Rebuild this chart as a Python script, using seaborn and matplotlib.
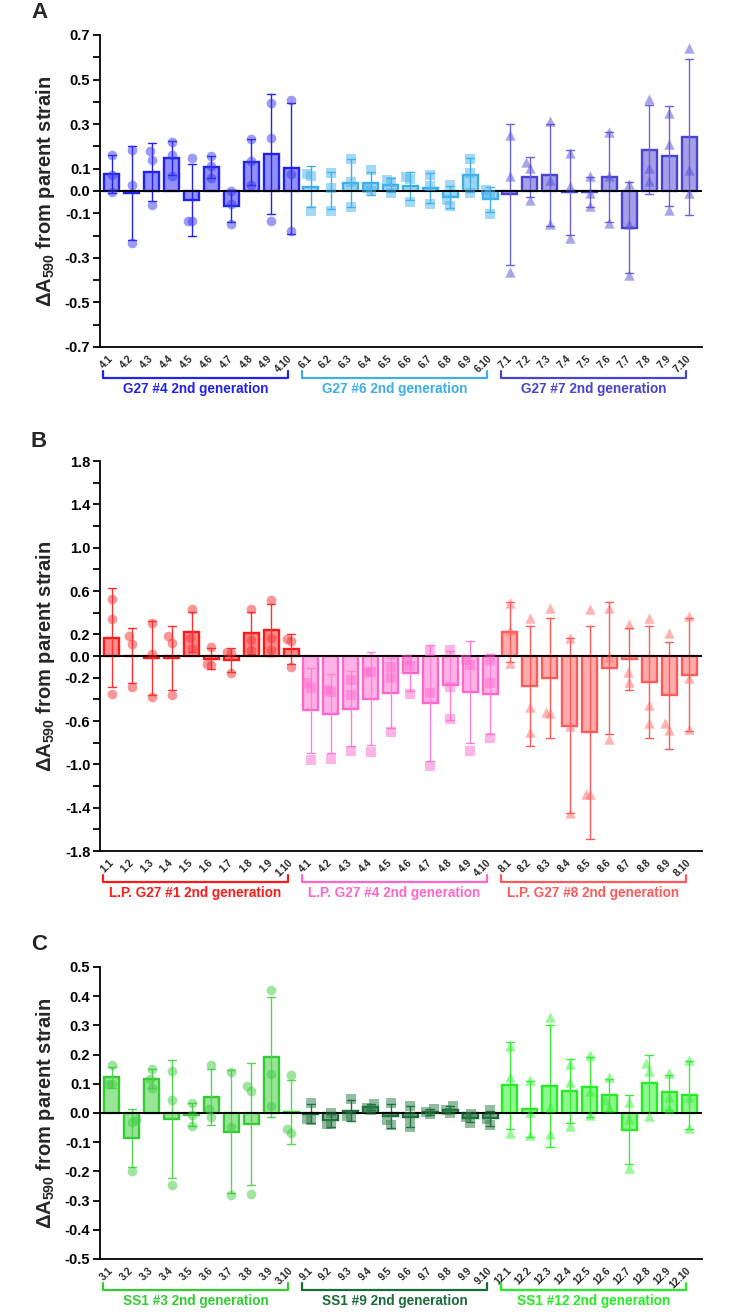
import numpy as np
import pandas as pd
import matplotlib
matplotlib.use("Agg")
import matplotlib.pyplot as plt
import seaborn as sns
from matplotlib.colors import to_rgba
from matplotlib.transforms import blended_transform_factory

sns.set_theme(style="ticks")
plt.rcParams["font.family"] = ["Liberation Sans", "DejaVu Sans"]
plt.rcParams["font.weight"] = "bold"
plt.rcParams["mathtext.fontset"] = "custom"
plt.rcParams["mathtext.rm"] = "Liberation Sans:bold"
plt.rcParams["mathtext.bf"] = "Liberation Sans:bold"
plt.rcParams["mathtext.it"] = "Liberation Sans:bold"
plt.rcParams["mathtext.default"] = "bf"

# ---------------- Panel A data ----------------
A1_NAME = "G27 #4 2nd generation"
A1_LABELS = ["4.1", "4.2", "4.3", "4.4", "4.5", "4.6", "4.7", "4.8", "4.9", "4.10"]
A1_VALUES = [[0.161, 0.073, -0.006], [0.182, 0.025, -0.233], [0.178, 0.137, -0.064],
             [0.218, 0.160, 0.066], [0.146, -0.133, -0.133], [0.155, 0.110, 0.058],
             [0.000, -0.057, -0.146], [0.234, 0.133, 0.028], [0.394, 0.237, -0.133],
             [0.409, 0.076, -0.178]]
A2_NAME = "G27 #6 2nd generation"
A2_LABELS = ["6.1", "6.2", "6.3", "6.4", "6.5", "6.6", "6.7", "6.8", "6.9", "6.10"]
A2_VALUES = [[0.078, 0.066, -0.088], [0.080, 0.013, -0.088], [0.143, 0.039, -0.072],
             [0.093, 0.013, -0.002], [0.050, 0.040, -0.010], [0.061, 0.054, -0.050],
             [0.073, 0.024, -0.057], [0.028, -0.039, -0.069], [0.143, 0.081, -0.009],
             [0.006, -0.016, -0.103]]
A3_NAME = "G27 #7 2nd generation"
A3_LABELS = ["7.1", "7.2", "7.3", "7.4", "7.5", "7.6", "7.7", "7.8", "7.9", "7.10"]
A3_VALUES = [[0.252, 0.066, -0.364], [0.128, 0.103, -0.039], [0.312, 0.051, -0.146],
             [0.170, 0.021, -0.210], [0.066, -0.009, -0.069], [0.263, 0.066, -0.143],
             [0.033, -0.150, -0.375], [0.412, 0.103, 0.043], [0.349, 0.210, -0.087],
             [0.643, 0.093, -0.009]]

# ---------------- Panel B data ----------------
B1_NAME = "L.P. G27 #1 2nd generation"
B1_LABELS = ["1.1", "1.2", "1.3", "1.4", "1.5", "1.6", "1.7", "1.8", "1.9", "1.10"]
B1_VALUES = [[0.522, 0.338, -0.350], [0.184, 0.111, -0.283], [0.307, 0.015, -0.380],
             [0.184, 0.117, -0.360], [0.433, 0.163, 0.077], [0.086, -0.074, -0.083],
             [0.034, 0.025, -0.160], [0.433, 0.147, 0.055], [0.513, 0.163, 0.055],
             [0.154, 0.135, -0.098]]
B2_NAME = "L.P. G27 #4 2nd generation"
B2_LABELS = ["4.1", "4.2", "4.3", "4.4", "4.5", "4.6", "4.7", "4.8", "4.9", "4.10"]
B2_VALUES = [[-0.250, -0.298, -0.958], [-0.313, -0.330, -0.952], [-0.220, -0.360, -0.880],
             [-0.145, -0.150, -0.890], [-0.104, -0.206, -0.706], [-0.037, -0.092, -0.350],
             [0.046, -0.338, -1.013], [0.055, -0.283, -0.580], [-0.037, -0.083, -0.880],
             [-0.037, -0.250, -0.758]]
B3_NAME = "L.P. G27 #8 2nd generation"
B3_LABELS = ["8.1", "8.2", "8.3", "8.4", "8.5", "8.6", "8.7", "8.8", "8.9", "8.10"]
B3_VALUES = [[0.490, 0.240, -0.068], [0.347, -0.473, -0.706], [0.440, -0.520, -0.530],
             [0.169, -0.650, -1.450], [0.430, -1.270, -1.270], [0.440, -0.006, -0.768],
             [0.300, -0.144, -0.236], [0.347, -0.450, -0.614], [0.209, -0.620, -0.680],
             [0.369, -0.206, -0.676]]

# ---------------- Panel C data ----------------
C1_NAME = "SS1 #3 2nd generation"
C1_LABELS = ["3.1", "3.2", "3.3", "3.4", "3.5", "3.6", "3.7", "3.8", "3.9", "3.10"]
C1_VALUES = [[0.165, 0.100, 0.100], [-0.025, -0.030, -0.200], [0.150, 0.117, 0.087],
             [0.144, 0.043, -0.245], [0.035, -0.008, -0.044], [0.163, 0.015, -0.014],
             [0.139, -0.048, -0.282], [0.094, 0.074, -0.278], [0.420, 0.132, 0.024],
             [0.129, -0.054, -0.068]]
C2_NAME = "SS1 #9 2nd generation"
C2_LABELS = ["9.1", "9.2", "9.3", "9.4", "9.5", "9.6", "9.7", "9.8", "9.9", "9.10"]
C2_VALUES = [[0.035, -0.019, -0.023], [0.000, -0.036, -0.039], [0.049, -0.010, -0.014],
             [0.032, 0.018, 0.011], [0.035, -0.023, -0.042], [0.023, -0.014, -0.048],
             [0.014, 0.003, -0.005], [0.024, 0.009, 0.000], [-0.002, -0.014, -0.033],
             [0.009, -0.019, -0.042]]
C3_NAME = "SS1 #12 2nd generation"
C3_LABELS = ["12.1", "12.2", "12.3", "12.4", "12.5", "12.6", "12.7", "12.8", "12.9", "12.10"]
C3_VALUES = [[0.228, 0.123, -0.068], [0.114, 0.003, -0.076], [0.328, 0.020, -0.071],
             [0.169, 0.105, -0.046], [0.197, 0.075, -0.008], [0.123, 0.043, 0.020],
             [0.038, -0.019, -0.190], [0.172, 0.143, -0.011], [0.138, 0.055, 0.018],
             [0.182, 0.055, -0.051]]

# y-axis ticks
A_TICKS = [-0.7, -0.6, -0.5, -0.4, -0.3, -0.2, -0.1, 0.0, 0.1, 0.2, 0.3, 0.4, 0.5, 0.6, 0.7]
A_TICKLABELS = ["-0.7", "", "-0.5", "", "-0.3", "", "-0.1", "0.0", "0.1", "", "0.3", "", "0.5", "", "0.7"]
B_TICKS = [-1.8, -1.6, -1.4, -1.2, -1.0, -0.8, -0.6, -0.4, -0.2, 0.0, 0.2, 0.4, 0.6, 0.8, 1.0, 1.2, 1.4, 1.6, 1.8]
B_TICKLABELS = ["-1.8", "", "-1.4", "", "-1.0", "", "-0.6", "", "-0.2", "0.0", "0.2", "", "0.6", "", "1.0", "", "1.4", "", "1.8"]
C_TICKS = [-0.5, -0.4, -0.3, -0.2, -0.1, 0.0, 0.1, 0.2, 0.3, 0.4, 0.5]
C_TICKLABELS = ["-0.5", "-0.4", "-0.3", "-0.2", "-0.1", "0.0", "0.1", "0.2", "0.3", "0.4", "0.5"]

FIG_W, FIG_H = 733, 1312
AX_LEFT, AX_RIGHT = 100, 702
SWARM_SQUEEZE = 0.5


def draw_panel(fig, top, bottom, groups, ylim, ticks, ticklabels):
    h = bottom - top
    ax = fig.add_axes([AX_LEFT / FIG_W, 1 - bottom / FIG_H,
                       (AX_RIGHT - AX_LEFT) / FIG_W, h / FIG_H])
    order = sum([g["labels"] for g in groups], [])
    ax.set_xlim(-0.6, 29.65)
    ax.set_ylim(*ylim)
    swarm_colls = []
    for g in groups:
        df = pd.DataFrame({"label": np.repeat(g["labels"], 3),
                           "value": np.ravel(g["values"])})
        npatch, nline = len(ax.patches), len(ax.lines)
        sns.barplot(data=df, x="label", y="value", order=order, color=g["color"],
                    errorbar="sd", capsize=0.4, width=0.75,
                    err_kws={"color": g["err"], "linewidth": 1.0}, ax=ax)
        for p in ax.patches[npatch:]:
            p.set_facecolor(to_rgba(g["color"], 0.5))
            p.set_edgecolor(g["color"])
            p.set_linewidth(1.7)
            p.set_zorder(2)
        for ln in ax.lines[nline:]:
            ln.set_zorder(3)
        ncoll = len(ax.collections)
        sns.swarmplot(data=df, x="label", y="value", order=order, color=g["pt"],
                      marker=g["marker"], size=g["size"], alpha=0.5, linewidth=0,
                      ax=ax, zorder=4)
        swarm_colls.extend(ax.collections[ncoll:])
    ax.axhline(0, color="black", lw=1.4, zorder=3.5)
    ax.set_xlim(-0.6, 29.65)
    ax.set_ylim(*ylim)
    sns.despine(ax=ax)
    for s in ("left", "bottom"):
        ax.spines[s].set_linewidth(1.3)
        ax.spines[s].set_color("black")
    ax.set_yticks(ticks)
    ax.set_yticklabels(ticklabels, fontsize=10.5, fontweight="bold")
    ax.tick_params(axis="y", length=5, width=1.3, direction="out", pad=2, colors="black")
    ax.set_xticks(range(len(order)))
    ax.set_xticklabels(order, rotation=45, ha="right", va="center",
                       rotation_mode="anchor", fontsize=7.3, fontweight="bold")
    ax.tick_params(axis="x", length=0, pad=7)
    ax.set_xlabel("")
    ax.set_ylabel(r"ΔA$_{590}$ from parent strain", fontsize=14.5, fontweight="bold")
    ax.yaxis.set_label_coords(-43 / (AX_RIGHT - AX_LEFT), 0.5)

    trans = blended_transform_factory(ax.transData, ax.transAxes)
    y_line = -31 / h
    y_end = -24 / h
    y_text = -42 / h
    for gi, g in enumerate(groups):
        x0 = gi * 10 - 0.45
        x1 = gi * 10 + 9 - 0.15
        ax.plot([x0, x0, x1, x1], [y_end, y_line, y_line, y_end], transform=trans,
                clip_on=False, color=g["color"], lw=1.6)
        ax.text((x0 + x1) / 2, y_text, g["name"], transform=trans, ha="center",
                va="center", fontsize=9.8, fontweight="bold", color=g["text"])
    return ax, swarm_colls


fig = plt.figure(figsize=(FIG_W / 100, FIG_H / 100), dpi=100)

groups_a = [
    dict(name=A1_NAME, labels=A1_LABELS, values=A1_VALUES, color="#2222ee", err="#2222ee",
         pt="#3a3af0", text="#2222ee", marker="o", size=7),
    dict(name=A2_NAME, labels=A2_LABELS, values=A2_VALUES, color="#3daee9", err="#3daee9",
         pt="#4ab4ee", text="#3daee9", marker="s", size=6.5),
    dict(name=A3_NAME, labels=A3_LABELS, values=A3_VALUES, color="#4a42d0", err="#6a64dc",
         pt="#5650d4", text="#4a42d0", marker="^", size=7.5),
]
groups_b = [
    dict(name=B1_NAME, labels=B1_LABELS, values=B1_VALUES, color="#ff1a1a", err="#ff3030",
         pt="#f03030", text="#ff1a1a", marker="o", size=7),
    dict(name=B2_NAME, labels=B2_LABELS, values=B2_VALUES, color="#ff66cc", err="#ff80d6",
         pt="#ff6ad0", text="#ff66cc", marker="s", size=6.5),
    dict(name=B3_NAME, labels=B3_LABELS, values=B3_VALUES, color="#ff5a5a", err="#ff5a5a",
         pt="#ff6a6a", text="#ff5a5a", marker="^", size=7.5),
]
groups_c = [
    dict(name=C1_NAME, labels=C1_LABELS, values=C1_VALUES, color="#33cc33", err="#55d455",
         pt="#40cc40", text="#33cc33", marker="o", size=7),
    dict(name=C2_NAME, labels=C2_LABELS, values=C2_VALUES, color="#1a6b3a", err="#1a6b3a",
         pt="#2a7a45", text="#1a6b3a", marker="s", size=6.5),
    dict(name=C3_NAME, labels=C3_LABELS, values=C3_VALUES, color="#22ee22", err="#33f033",
         pt="#33f033", text="#22ee22", marker="^", size=7.5),
]

all_swarm = []
for grp, top, bottom, ylim, tk, tl in (
        (groups_a, 35, 347, (-0.7, 0.7), A_TICKS, A_TICKLABELS),
        (groups_b, 461, 851, (-1.8, 1.8), B_TICKS, B_TICKLABELS),
        (groups_c, 967, 1259, (-0.5, 0.5), C_TICKS, C_TICKLABELS)):
    _, colls = draw_panel(fig, top, bottom, grp, ylim, tk, tl)
    all_swarm.extend(colls)

for letter, yy in (("A", 12), ("B", 441), ("C", 944)):
    fig.text(39 / FIG_W, 1 - yy / FIG_H, letter, fontsize=16, fontweight="bold",
             ha="center", va="center")

# let seaborn compute the beeswarm once, then pull the points closer to bar centres
fig.canvas.draw()
for coll in all_swarm:
    off = np.asarray(coll.get_offsets(), dtype=float).copy()
    if "draw" in coll.__dict__:
        del coll.__dict__["draw"]
    if len(off):
        c = np.round(off[:, 0])
        off[:, 0] = c + (off[:, 0] - c) * SWARM_SQUEEZE
        coll.set_offsets(off)

fig.savefig("out.png", dpi=100)
